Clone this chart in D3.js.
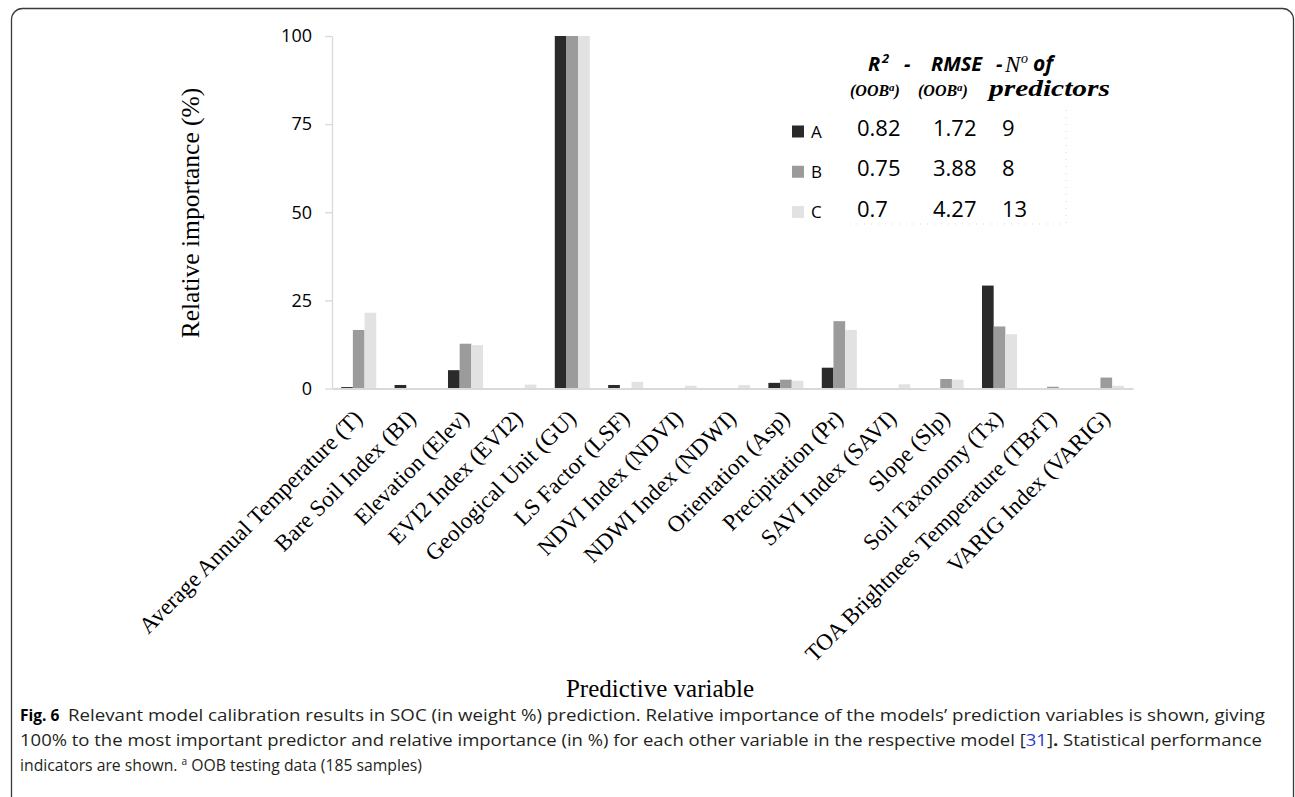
<!DOCTYPE html>
<html>
<head>
<meta charset="utf-8">
<script src="https://cdn.jsdelivr.net/npm/d3@7"></script>
<style>
  body { margin: 0; background: #fff; }
</style>
</head>
<body>
<svg></svg>
<script>
const width = 1295;
const height = 797;

// chart data
const categories = [
  "Average Annual Temperature (T)", "Bare Soil Index (BI)", "Elevation (Elev)",
  "EVI2 Index (EVI2)", "Geological Unit (GU)", "LS Factor (LSF)",
  "NDVI Index (NDVI)", "NDWI Index (NDWI)", "Orientation (Asp)",
  "Precipitation (Pr)", "SAVI Index (SAVI)", "Slope (Slp)",
  "Soil Taxonomy (Tx)", "TOA Brightnees Temperature (TBrT)", "VARIG Index (VARIG)"
];
const models = ["A", "B", "C"];
const seriesA = [0.4, 1.0, 5.2, 0, 100, 1.0, 0, 0, 1.6, 5.9, 0, 0, 29.2, 0, 0];
const seriesB = [16.6, 0, 12.7, 0, 100, 0, 0, 0, 2.5, 19.1, 0, 2.7, 17.6, 0.5, 3.1];
const seriesC = [21.5, 0, 12.3, 1.1, 100, 1.9, 0.8, 1.0, 2.2, 16.6, 1.2, 2.5, 15.4, 0, 0.8];
const yTicks = [0, 25, 50, 75, 100];

// legend table
const r2Values = ["0.82", "0.75", "0.7"];
const rmseValues = ["1.72", "3.88", "4.27"];
const predictorCounts = ["9", "8", "13"];

const colors = { A: "#2a2a2a", B: "#9b9b9b", C: "#e2e2e2" };

const svg = d3.select("svg")
    .attr("width", width)
    .attr("height", height);

// frame of the figure panel
svg.append("rect")
    .attr("x", 11.5)
    .attr("y", 8.5)
    .attr("width", 1282)
    .attr("height", 900)
    .attr("rx", 11)
    .attr("fill", "none")
    .attr("stroke", "#3a3a3a")
    .attr("stroke-width", 1.3);

const x0 = d3.scaleBand()
    .domain(categories)
    .range([332, 1133]);
const x1 = d3.scaleBand()
    .domain(models)
    .range([x0.bandwidth() * 0.172, x0.bandwidth() * 0.828]);
const y = d3.scaleLinear()
    .domain([0, 100])
    .range([388.5, 36]);

const rows = categories.map((c, i) => ({
  name: c,
  values: [
    { key: "A", v: seriesA[i] },
    { key: "B", v: seriesB[i] },
    { key: "C", v: seriesC[i] }
  ]
}));

// bars
svg.append("g")
  .selectAll("g")
  .data(rows)
  .enter()
  .append("g")
    .attr("transform", d => "translate(" + x0(d.name) + ",0)")
  .selectAll("rect")
  .data(d => d.values.filter(e => e.v > 0))
  .enter()
  .append("rect")
    .attr("x", d => x1(d.key))
    .attr("width", x1.bandwidth())
    .attr("y", d => y(d.v))
    .attr("height", d => y(0) - y(d.v))
    .attr("fill", d => colors[d.key]);

// axes
const yAxis = d3.axisLeft(y)
    .tickValues(yTicks)
    .tickSize(7)
    .tickSizeOuter(0)
    .tickPadding(13);
const gy = svg.append("g")
    .attr("transform", "translate(332,0)")
    .call(yAxis);
gy.select(".domain").attr("stroke", "#d9d9d9").attr("stroke-width", 1.3);
gy.selectAll(".tick line").attr("stroke", "#d9d9d9").attr("stroke-width", 1.3);
gy.selectAll(".tick text")
    .style("font-family", "'Open Sans', sans-serif")
    .style("font-size", "18px")
    .attr("fill", "#000");

const xAxis = d3.axisBottom(x0)
    .tickSize(0)
    .tickSizeOuter(0);
const gx = svg.append("g")
    .attr("transform", "translate(0," + y(0) + ")")
    .call(xAxis);
gx.select(".domain").attr("stroke", "#d9d9d9").attr("stroke-width", 2);
gx.selectAll(".tick text")
    .attr("y", 0)
    .attr("dy", 0)
    .attr("text-anchor", "end")
    .attr("transform", "translate(5,31) rotate(-45)")
    .style("font-family", "'Liberation Serif', 'Times New Roman', serif")
    .style("font-size", "23px")
    .attr("fill", "#000");

// axis titles
svg.append("text")
    .attr("transform", "translate(199,213) rotate(-90)")
    .style("text-anchor", "middle")
    .style("font-family", "'Liberation Serif', serif")
    .style("font-size", "25.5px")
    .text("Relative importance (%)");
svg.append("text")
    .attr("x", 660)
    .attr("y", 697)
    .style("text-anchor", "middle")
    .style("font-family", "'Liberation Serif', serif")
    .style("font-size", "25px")
    .text("Predictive variable");

// legend / statistics table
const legend = svg.append("g");
const sansBI = "font-family:'Open Sans',sans-serif;font-weight:bold;font-style:italic;font-size:20px";
const serifBI = "font-family:'Liberation Serif',serif;font-weight:bold;font-style:italic";

const headPieces = [
  { x: 868, y: 71, s: sansBI, t: "R" },
  { x: 882, y: 63, s: sansBI + ";font-size:13px", t: "2" },
  { x: 904, y: 71, s: sansBI, t: "-" },
  { x: 931, y: 71, s: sansBI, t: "RMSE" },
  { x: 996, y: 71, s: sansBI, t: "-" },
  { x: 1005, y: 72, s: "font-family:'Liberation Serif',serif;font-style:italic;font-size:23px", t: "N" },
  { x: 1021, y: 63, s: "font-family:'Liberation Serif',serif;font-style:italic;font-size:14px", t: "o" },
  { x: 1033, y: 71, s: sansBI + ";font-size:21px", t: "of" }
];
legend.selectAll(".head")
  .data(headPieces)
  .enter()
  .append("text")
    .attr("x", d => d.x)
    .attr("y", d => d.y)
    .attr("style", d => d.s)
    .text(d => d.t);

[850, 918].forEach(px => {
  const t = legend.append("text").attr("x", px).attr("y", 96).attr("style", serifBI + ";font-size:16px");
  t.append("tspan").text("(OOB");
  t.append("tspan").attr("dy", -5).style("font-size", "11px").text("a");
  t.append("tspan").attr("dy", 5).text(")");
});
legend.append("text")
    .attr("x", 989).attr("y", 96)
    .attr("style", serifBI + ";font-size:23px")
    .attr("textLength", 121)
    .attr("lengthAdjust", "spacingAndGlyphs")
    .text("predictors");

// faint table grid remains
legend.append("path")
    .attr("d", "M850,224H1066V106")
    .attr("fill", "none")
    .attr("stroke", "#d6d6d6")
    .attr("stroke-dasharray", "1,6");

const rowY = d3.scalePoint().domain(models).range([136, 216.5]);

legend.selectAll(".sw")
  .data(models)
  .enter()
  .append("rect")
    .attr("x", 792)
    .attr("y", d => rowY(d) - 10.5)
    .attr("width", 12)
    .attr("height", 12)
    .attr("fill", d => colors[d]);

legend.selectAll(".lab")
  .data(models)
  .enter()
  .append("text")
    .attr("x", 811)
    .attr("y", d => rowY(d) + 1.5)
    .style("font-family", "'Open Sans', sans-serif")
    .style("font-size", "17px")
    .text(d => d);

[[857, r2Values], [933, rmseValues], [1002, predictorCounts]].forEach(([px, vals]) => {
  legend.selectAll(null)
    .data(models)
    .enter()
    .append("text")
      .attr("x", px)
      .attr("y", d => rowY(d))
      .style("font-family", "'Open Sans', sans-serif")
      .style("font-size", "22px")
      .text((d, i) => vals[i]);
});

// caption
const cap = svg.append("g")
    .style("font-family", "'Open Sans', sans-serif")
    .style("font-size", "15.5px")
    .attr("fill", "#231f20");
cap.append("text")
    .attr("x", 20).attr("y", 721)
    .style("font-weight", "bold")
    .attr("fill", "#000")
    .text("Fig. 6");
cap.append("text")
    .attr("x", 68).attr("y", 721)
    .attr("textLength", 1197)
    .attr("lengthAdjust", "spacingAndGlyphs")
    .text("Relevant model calibration results in SOC (in weight %) prediction. Relative importance of the models\u2019 prediction variables is shown, giving");
const l2 = cap.append("text")
    .attr("x", 20).attr("y", 746)
    .attr("textLength", 1242)
    .attr("lengthAdjust", "spacingAndGlyphs");
l2.append("tspan").text("100% to the most important predictor and relative importance (in %) for each other variable in the respective model [");
l2.append("tspan").attr("fill", "#2a3bd0").text("31");
l2.append("tspan").text("]");
l2.append("tspan").style("font-weight", "bold").text(".");
l2.append("tspan").text(" Statistical performance");
const l3 = cap.append("text")
    .attr("x", 20).attr("y", 771)
    .attr("textLength", 402)
    .attr("lengthAdjust", "spacingAndGlyphs");
l3.append("tspan").text("indicators are shown. ");
l3.append("tspan").attr("dy", -6).style("font-size", "10px").text("a");
l3.append("tspan").attr("dy", 6).text(" OOB testing data (185 samples)");
</script>
</body>
</html>
